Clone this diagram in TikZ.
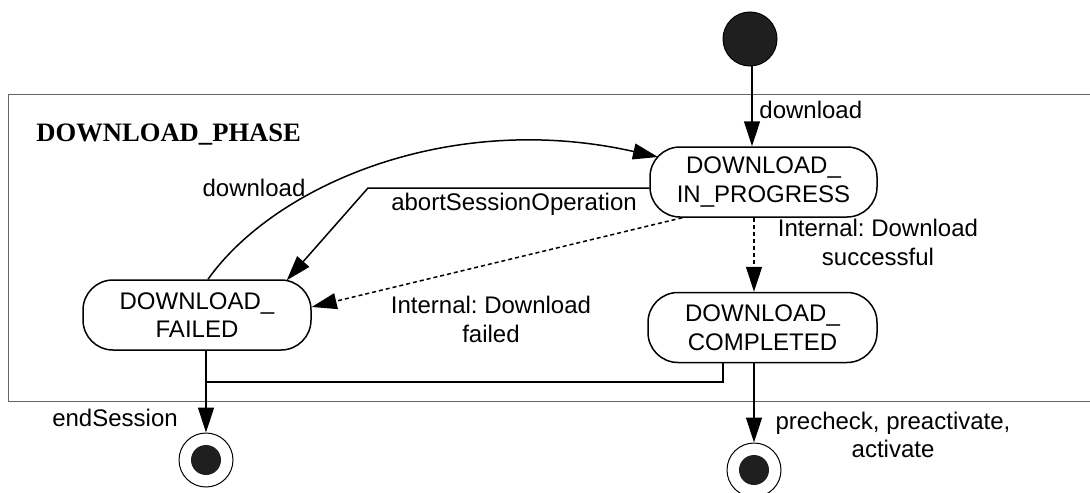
\documentclass[tikz,border=0pt]{standalone}
\usepackage{fontspec}
\setmainfont{Liberation Sans}
\newfontfamily\phasefont{Liberation Serif}
\usetikzlibrary{arrows.meta}
\frenchspacing
\begin{document}
\begin{tikzpicture}[x=0.5pt,y=-0.5pt,
  state/.style={draw, line width=0.75pt, rounded corners=15pt, minimum height=35pt,
    align=center, inner sep=0pt, font=\fontsize{12}{14.25}\selectfont},
  lbl/.style={align=center, inner sep=0pt, font=\fontsize{12}{14.25}\selectfont},
  ln/.style={line width=0.75pt},
  arr/.style={line width=0.75pt, -{Triangle[length=12.5pt,width=8pt]}},
  dsh/.style={arr, dash pattern=on 2pt off 1.5pt},
  blob/.style={circle, fill=black!88, inner sep=0pt},
  ring/.style={circle, draw, line width=0.5pt, fill=white, inner sep=0pt, minimum size=27pt}
]
\clip (0,0) rectangle (1090,492);
\fill[white] (0,0) rectangle (1090,492);
% frame
\draw[line width=0.5pt, black!60] (8,95) rectangle (1100,401);
\node[anchor=west, inner sep=0pt, font=\phasefont\bfseries\fontsize{13.3}{16}\selectfont] (phase) at (36,135) {DOWNLOAD\_PHASE};

% states
\node[blob, draw, line width=0.5pt, minimum size=27pt] (init) at (750,39) {};
\node[state, minimum width=113.5pt] (ip) at (763.5,182) {DOWNLOAD\_\\IN\_PROGRESS};
\node[state, minimum width=114pt] (fl) at (197,315) {DOWNLOAD\_\\FAILED};
\node[state, minimum width=114.5pt] (co) at (762.5,327.5) {DOWNLOAD\_\\COMPLETED};
\node[ring] (f1) at (206,460) {};
\node[blob, minimum size=15pt] (f1c) at (f1) {};
\node[ring] (f2) at (754,470) {};
\node[blob, minimum size=15pt] (f2c) at (f2) {};

% helper points
\coordinate (abend) at (368,188);
\coordinate (j1) at (206,382);

% connectors
\draw[arr] ([xshift=1pt]init.south) -- ([xshift=1pt]init.south |- ip.north);
\draw[arr] ([yshift=-3pt]ip.west) -- (abend) -- ([xshift=-12.5pt,yshift=-0.5pt]fl.north east);
\draw[arr] ([xshift=5.5pt]fl.north) .. controls (275,185) and (450,110) .. (658,157);
\draw[dsh] ([xshift=16.5pt]ip.south west) -- ([yshift=4pt]fl.east);
\draw[dsh] ([xshift=-4.75pt]ip.south) -- ([xshift=-4.25pt]co.north);
\draw[ln] ([xshift=-19.75pt]co.south) |- (j1);
\draw[arr] (fl.south -| j1) -- (f1.north);
\draw[arr] ([xshift=-4.25pt]co.south) -- (f2.north);

% labels
\node[lbl, anchor=west] (l1) at (759,110) {download};
\node[lbl] (l2) at (254,188) {download};
\node[lbl] (l3) at (514,204) {abortSessionOperation};
\node[lbl] (l4) at (491,319.5) {Internal: Download\\failed};
\node[lbl] (l5) at (878,242.5) {Internal: Download\\successful};
\node[lbl] (l6) at (115,418) {endSession};
\node[lbl] (l7) at (893,435) {precheck, preactivate,\\activate};
\end{tikzpicture}
\end{document}
